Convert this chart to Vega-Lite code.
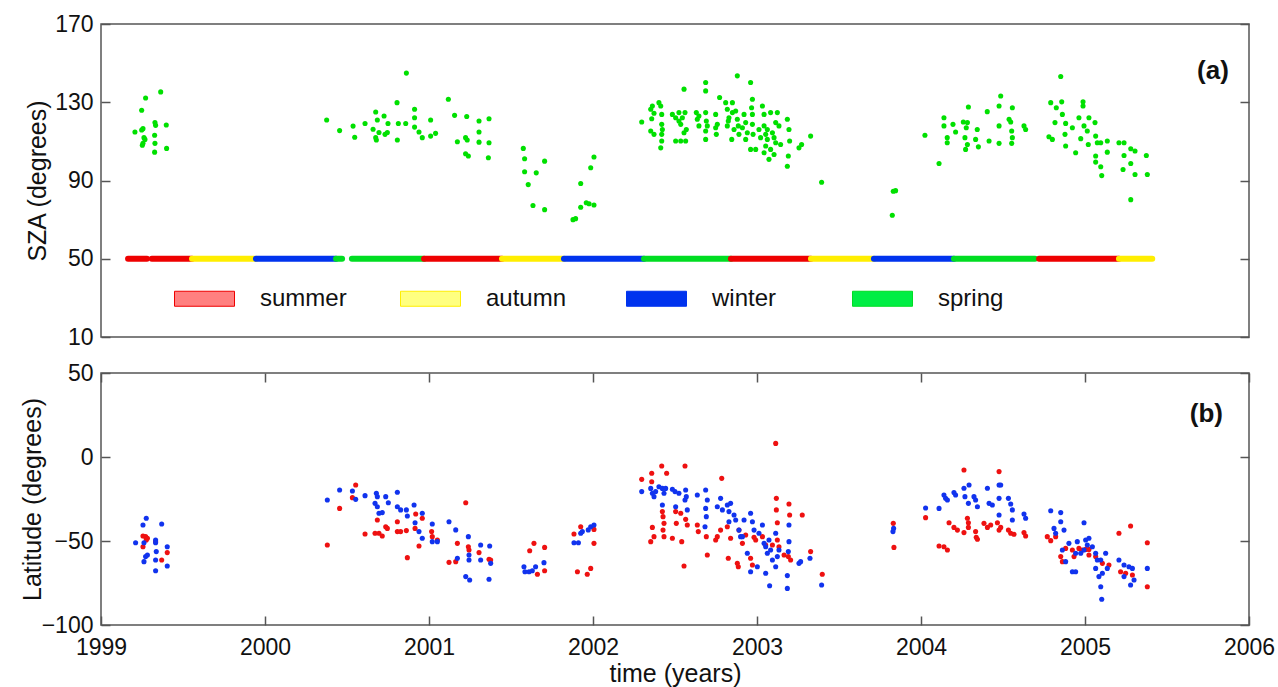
{
"$schema": "https://vega.github.io/schema/vega-lite/v6.json",
"background": "white",
"padding": {"left": 19, "top": 12, "right": 5, "bottom": 0},
"bounds": "flush",
"spacing": 36,
"config": {
  "view": {"stroke": "#555", "strokeWidth": 1.5},
  "axis": {"labelFont": "Liberation Sans", "labelFontSize": 23, "labelColor": "#111", "titleFont": "Liberation Sans", "titleFontSize": 25, "titleFontWeight": "normal", "titleColor": "#111", "tickColor": "#555", "tickWidth": 1.5, "tickSize": -9, "labelPadding": 17, "domain": false, "grid": false, "labelFlush": false, "labelOverlap": false}
},
"resolve": {"scale": {"color": "independent"}},
"datasets": {
  "seasons": [
    {"seg":1,"season":"summer","t":1999.165,"sza":50},{"seg":1,"season":"summer","t":1999.28,"sza":50},
    {"seg":2,"season":"summer","t":1999.31,"sza":50},{"seg":2,"season":"summer","t":1999.555,"sza":50},
    {"seg":3,"season":"autumn","t":1999.555,"sza":50},{"seg":3,"season":"autumn","t":1999.945,"sza":50},
    {"seg":4,"season":"winter","t":1999.945,"sza":50},{"seg":4,"season":"winter","t":2000.433,"sza":50},
    {"seg":5,"season":"spring","t":2000.433,"sza":50},{"seg":5,"season":"spring","t":2000.47,"sza":50},
    {"seg":6,"season":"spring","t":2000.53,"sza":50},{"seg":6,"season":"spring","t":2000.97,"sza":50},
    {"seg":7,"season":"summer","t":2000.97,"sza":50},{"seg":7,"season":"summer","t":2001.445,"sza":50},
    {"seg":8,"season":"autumn","t":2001.445,"sza":50},{"seg":8,"season":"autumn","t":2001.823,"sza":50},
    {"seg":9,"season":"winter","t":2001.823,"sza":50},{"seg":9,"season":"winter","t":2002.311,"sza":50},
    {"seg":10,"season":"spring","t":2002.311,"sza":50},{"seg":10,"season":"spring","t":2002.841,"sza":50},
    {"seg":11,"season":"summer","t":2002.841,"sza":50},{"seg":11,"season":"summer","t":2003.329,"sza":50},
    {"seg":12,"season":"autumn","t":2003.329,"sza":50},{"seg":12,"season":"autumn","t":2003.713,"sza":50},
    {"seg":13,"season":"winter","t":2003.713,"sza":50},{"seg":13,"season":"winter","t":2004.201,"sza":50},
    {"seg":14,"season":"spring","t":2004.201,"sza":50},{"seg":14,"season":"spring","t":2004.695,"sza":50},
    {"seg":15,"season":"summer","t":2004.72,"sza":50},{"seg":15,"season":"summer","t":2005.207,"sza":50},
    {"seg":16,"season":"autumn","t":2005.207,"sza":50},{"seg":16,"season":"autumn","t":2005.41,"sza":50}
  ],
  "green": [
    {"t":1999.207,"sza":114.8},{"t":1999.248,"sza":115.8},{"t":1999.256,"sza":116.5},{"t":1999.248,"sza":125.9},{"t":1999.272,"sza":132.2},{"t":1999.262,"sza":111.9},{"t":1999.256,"sza":109},{"t":1999.252,"sza":108},{"t":1999.329,"sza":119.6},{"t":1999.333,"sza":118.2},{"t":1999.327,"sza":113.1},{"t":1999.329,"sza":109},{"t":1999.327,"sza":104.5},{"t":1999.364,"sza":135.3},{"t":1999.398,"sza":118.4},{"t":1999.4,"sza":106.4},{"t":1999.268,"sza":111},
    {"t":2000.376,"sza":120.9},{"t":2000.455,"sza":115.5},{"t":2000.537,"sza":117.8},{"t":2000.547,"sza":112.1},{"t":2000.61,"sza":119.1},{"t":2000.659,"sza":116.2},{"t":2000.675,"sza":125},{"t":2000.685,"sza":120.9},{"t":2000.675,"sza":111.9},{"t":2000.679,"sza":110.7},{"t":2000.695,"sza":114.5},{"t":2000.726,"sza":123},{"t":2000.732,"sza":113.6},{"t":2000.746,"sza":114.5},{"t":2000.75,"sza":119.1},{"t":2000.805,"sza":129.8},{"t":2000.807,"sza":110.7},{"t":2000.813,"sza":119.1},{"t":2000.858,"sza":119.1},{"t":2000.862,"sza":144.9},{"t":2000.912,"sza":126.4},{"t":2000.912,"sza":122.1},{"t":2000.912,"sza":117.3},{"t":2000.939,"sza":114.8},{"t":2000.959,"sza":111.9},{"t":2001.01,"sza":120.9},{"t":2001.01,"sza":112.7},{"t":2001.04,"sza":114.1},{"t":2001.118,"sza":131.5},{"t":2001.156,"sza":123.3},{"t":2001.173,"sza":109.8},{"t":2001.23,"sza":122.7},{"t":2001.223,"sza":111.9},{"t":2001.233,"sza":110.7},{"t":2001.223,"sza":103.7},{"t":2001.24,"sza":102.5},{"t":2001.305,"sza":120.4},{"t":2001.305,"sza":114.8},{"t":2001.305,"sza":109.6},{"t":2001.366,"sza":121.6},{"t":2001.366,"sza":109.3},{"t":2001.362,"sza":101.6},
    {"t":2001.575,"sza":106.4},{"t":2001.583,"sza":101.1},{"t":2001.583,"sza":94.5},{"t":2001.605,"sza":87.9},{"t":2001.634,"sza":77.2},{"t":2001.654,"sza":93.9},{"t":2001.705,"sza":99.9},{"t":2001.705,"sza":75.1},
    {"t":2001.878,"sza":70},{"t":2001.894,"sza":70.5},{"t":2001.925,"sza":88.5},{"t":2001.925,"sza":76.3},{"t":2001.959,"sza":78.6},{"t":2001.976,"sza":78.1},{"t":2002.006,"sza":77.5},{"t":2001.986,"sza":96.5},{"t":2002.006,"sza":102},
    {"t":2002.297,"sza":119.9},{"t":2002.352,"sza":126.4},{"t":2002.362,"sza":128.1},{"t":2002.358,"sza":121.6},{"t":2002.352,"sza":115.3},{"t":2002.372,"sza":124.4},{"t":2002.402,"sza":129.8},{"t":2002.413,"sza":128.1},{"t":2002.419,"sza":123.8},{"t":2002.419,"sza":118.7},{"t":2002.419,"sza":113.6},{"t":2002.419,"sza":110.2},{"t":2002.413,"sza":106.7},{"t":2002.484,"sza":123.8},{"t":2002.504,"sza":122.1},{"t":2002.524,"sza":120.4},{"t":2002.535,"sza":118.7},{"t":2002.504,"sza":110.2},{"t":2002.535,"sza":110.2},{"t":2002.565,"sza":110.2},{"t":2002.555,"sza":136.7},{"t":2002.561,"sza":124.7},{"t":2002.569,"sza":116.1},{"t":2002.555,"sza":114.4},{"t":2002.63,"sza":124.7},{"t":2002.636,"sza":121.3},{"t":2002.687,"sza":140.1},{"t":2002.687,"sza":135.8},{"t":2002.687,"sza":124.7},{"t":2002.691,"sza":120.4},{"t":2002.687,"sza":115.3},{"t":2002.687,"sza":111},{"t":2002.748,"sza":123.8},{"t":2002.758,"sza":118.7},{"t":2002.752,"sza":113.6},{"t":2002.772,"sza":132.4},{"t":2002.809,"sza":129.8},{"t":2002.819,"sza":126.4},{"t":2002.829,"sza":122.1},{"t":2002.819,"sza":117.9},{"t":2002.846,"sza":111},{"t":2002.85,"sza":129.8},{"t":2002.87,"sza":125.5},{"t":2002.88,"sza":121.3},{"t":2002.886,"sza":117.9},{"t":2002.89,"sza":113.6},{"t":2002.88,"sza":143.5},{"t":2002.921,"sza":123.8},{"t":2002.931,"sza":119.6},{"t":2002.941,"sza":114.4},{"t":2002.961,"sza":140.1},{"t":2002.972,"sza":131.5},{"t":2002.967,"sza":127.2},{"t":2002.972,"sza":123.8},{"t":2002.972,"sza":118.7},{"t":2002.976,"sza":113.6},{"t":2002.961,"sza":105.9},{"t":2002.992,"sza":105.9},{"t":2003.033,"sza":128.1},{"t":2003.043,"sza":123.8},{"t":2003.043,"sza":117.9},{"t":2003.053,"sza":113.6},{"t":2003.063,"sza":111},{"t":2003.053,"sza":107.6},{"t":2003.043,"sza":104.2},{"t":2003.073,"sza":100.8},{"t":2003.104,"sza":103.3},{"t":2003.094,"sza":114.4},{"t":2003.114,"sza":109.3},{"t":2003.114,"sza":119.6},{"t":2003.124,"sza":124.7},{"t":2003.144,"sza":108.4},{"t":2003.185,"sza":121.3},{"t":2003.195,"sza":116.1},{"t":2003.199,"sza":110.2},{"t":2003.191,"sza":102.5},{"t":2003.185,"sza":97.3},{"t":2003.256,"sza":106.7},{"t":2003.272,"sza":108.4},{"t":2003.327,"sza":112.7},
    {"t":2002.524,"sza":124.7},{"t":2002.545,"sza":122.1},{"t":2002.646,"sza":117.9},{"t":2002.697,"sza":117.9},{"t":2002.748,"sza":117},{"t":2002.825,"sza":120.4},{"t":2002.85,"sza":124.7},{"t":2002.86,"sza":116.1},{"t":2002.911,"sza":117},{"t":2002.931,"sza":111},{"t":2003.012,"sza":116.1},{"t":2003.022,"sza":111.9},{"t":2003.063,"sza":116.1},{"t":2003.083,"sza":105.9},{"t":2003.104,"sza":111.9},{"t":2003.134,"sza":117.9},{"t":2003.083,"sza":124.7},{"t":2002.423,"sza":116.1},{"t":2002.372,"sza":113.6},{"t":2002.646,"sza":123},
    {"t":2003.394,"sza":89.1},{"t":2003.831,"sza":84.5},{"t":2003.845,"sza":84.8},{"t":2003.825,"sza":72.2},
    {"t":2004.024,"sza":113.1},{"t":2004.11,"sza":98.7},{"t":2004.14,"sza":122.1},{"t":2004.14,"sza":117.9},{"t":2004.16,"sza":111.9},{"t":2004.16,"sza":109.3},{"t":2004.195,"sza":118.7},{"t":2004.211,"sza":114.8},{"t":2004.258,"sza":119.9},{"t":2004.268,"sza":111.9},{"t":2004.276,"sza":117},{"t":2004.283,"sza":119.6},{"t":2004.272,"sza":105.9},{"t":2004.289,"sza":127.6},{"t":2004.283,"sza":108.4},{"t":2004.343,"sza":116.1},{"t":2004.333,"sza":111},{"t":2004.35,"sza":107.2},{"t":2004.404,"sza":125.2},{"t":2004.415,"sza":110.2},{"t":2004.476,"sza":128.1},{"t":2004.486,"sza":133.2},{"t":2004.476,"sza":117.9},{"t":2004.476,"sza":109},{"t":2004.537,"sza":121.3},{"t":2004.547,"sza":119.9},{"t":2004.557,"sza":127.2},{"t":2004.553,"sza":115.3},{"t":2004.557,"sza":111.9},{"t":2004.553,"sza":109},{"t":2004.628,"sza":117.9},{"t":2004.638,"sza":116.1},
    {"t":2004.791,"sza":129.8},{"t":2004.825,"sza":127.2},{"t":2004.852,"sza":143.2},{"t":2004.858,"sza":130.2},{"t":2004.817,"sza":119.6},{"t":2004.78,"sza":112.4},{"t":2004.801,"sza":111},{"t":2004.862,"sza":123.8},{"t":2004.882,"sza":119.2},{"t":2004.878,"sza":113.6},{"t":2004.882,"sza":107.6},{"t":2004.923,"sza":117},{"t":2004.943,"sza":104.2},{"t":2004.963,"sza":122.1},{"t":2004.974,"sza":111.4},{"t":2004.988,"sza":130.2},{"t":2004.988,"sza":128.1},{"t":2004.994,"sza":117.9},{"t":2005.014,"sza":115.3},{"t":2005.024,"sza":122.1},{"t":2005.02,"sza":108.4},{"t":2005.061,"sza":119.6},{"t":2005.065,"sza":112.7},{"t":2005.075,"sza":109.3},{"t":2005.065,"sza":102.5},{"t":2005.065,"sza":99.4},{"t":2005.096,"sza":109.3},{"t":2005.096,"sza":97},{"t":2005.102,"sza":92.5},{"t":2005.136,"sza":110.2},{"t":2005.136,"sza":104.5},{"t":2005.207,"sza":109.3},{"t":2005.238,"sza":109.3},{"t":2005.238,"sza":102.8},{"t":2005.232,"sza":95.6},{"t":2005.279,"sza":106.2},{"t":2005.279,"sza":98.7},{"t":2005.305,"sza":105.1},{"t":2005.305,"sza":93.1},{"t":2005.374,"sza":102.8},{"t":2005.38,"sza":93.1},{"t":2005.279,"sza":80.2}
  ],
  "lat": [
    {"t":1999.256,"lat":-47,"s":"s1"},{"t":1999.272,"lat":-47.4,"s":"s1"},{"t":1999.276,"lat":-49.4,"s":"s1"},{"t":1999.256,"lat":-53.4,"s":"s1"},{"t":1999.333,"lat":-50.4,"s":"s1"},{"t":1999.37,"lat":-61.3,"s":"s1"},{"t":1999.404,"lat":-56.9,"s":"s1"},{"t":1999.283,"lat":-48.4,"s":"s1"},
    {"t":2000.38,"lat":-52.4,"s":"s1"},{"t":2000.455,"lat":-30.6,"s":"s1"},{"t":2000.533,"lat":-24.2,"s":"s1"},{"t":2000.553,"lat":-16.7,"s":"s1"},{"t":2000.61,"lat":-45.8,"s":"s1"},{"t":2000.671,"lat":-45.4,"s":"s1"},{"t":2000.685,"lat":-37.5,"s":"s1"},{"t":2000.695,"lat":-45.4,"s":"s1"},{"t":2000.715,"lat":-47,"s":"s1"},{"t":2000.736,"lat":-41.5,"s":"s1"},{"t":2000.746,"lat":-42.5,"s":"s1"},{"t":2000.807,"lat":-38.5,"s":"s1"},{"t":2000.807,"lat":-44.4,"s":"s1"},{"t":2000.827,"lat":-44.4,"s":"s1"},{"t":2000.862,"lat":-43.8,"s":"s1"},{"t":2000.868,"lat":-59.9,"s":"s1"},{"t":2000.915,"lat":-42.5,"s":"s1"},{"t":2000.919,"lat":-33.9,"s":"s1"},{"t":2000.939,"lat":-53,"s":"s1"},{"t":2000.959,"lat":-36.5,"s":"s1"},{"t":2001.016,"lat":-44.4,"s":"s1"},{"t":2001.02,"lat":-47.4,"s":"s1"},{"t":2001.051,"lat":-49.4,"s":"s1"},{"t":2001.122,"lat":-62.7,"s":"s1"},{"t":2001.163,"lat":-62.3,"s":"s1"},{"t":2001.173,"lat":-51.4,"s":"s1"},{"t":2001.224,"lat":-27.2,"s":"s1"},{"t":2001.24,"lat":-53.4,"s":"s1"},{"t":2001.244,"lat":-55.4,"s":"s1"},{"t":2001.305,"lat":-56.9,"s":"s1"},{"t":2001.366,"lat":-60.9,"s":"s1"},{"t":2001.376,"lat":-61.3,"s":"s1"},
    {"t":2001.614,"lat":-55.8,"s":"s1"},{"t":2001.64,"lat":-51.4,"s":"s1"},{"t":2001.661,"lat":-69.8,"s":"s1"},{"t":2001.705,"lat":-53.8,"s":"s1"},{"t":2001.705,"lat":-67.7,"s":"s1"},
    {"t":2001.884,"lat":-45.8,"s":"s1"},{"t":2001.925,"lat":-41.5,"s":"s1"},{"t":2001.905,"lat":-68.3,"s":"s1"},{"t":2001.965,"lat":-69.8,"s":"s1"},{"t":2001.986,"lat":-66.3,"s":"s1"},{"t":2002.006,"lat":-51.4,"s":"s1"},{"t":2002.006,"lat":-43.1,"s":"s1"},
    {"t":2002.297,"lat":-13.3,"s":"s1"},{"t":2002.358,"lat":-9.7,"s":"s1"},{"t":2002.358,"lat":-14.7,"s":"s1"},{"t":2002.419,"lat":-5.4,"s":"s1"},{"t":2002.449,"lat":-9.7,"s":"s1"},{"t":2002.561,"lat":-5.4,"s":"s1"},{"t":2002.785,"lat":-12.7,"s":"s1"},{"t":2002.423,"lat":-32.5,"s":"s1"},{"t":2002.427,"lat":-35.5,"s":"s1"},{"t":2002.433,"lat":-39.5,"s":"s1"},{"t":2002.427,"lat":-43.5,"s":"s1"},{"t":2002.433,"lat":-47.4,"s":"s1"},{"t":2002.362,"lat":-41.9,"s":"s1"},{"t":2002.372,"lat":-47.4,"s":"s1"},{"t":2002.352,"lat":-50.4,"s":"s1"},{"t":2002.484,"lat":-48.4,"s":"s1"},{"t":2002.504,"lat":-32.5,"s":"s1"},{"t":2002.535,"lat":-33.5,"s":"s1"},{"t":2002.508,"lat":-39.5,"s":"s1"},{"t":2002.541,"lat":-50.4,"s":"s1"},{"t":2002.575,"lat":-40.5,"s":"s1"},{"t":2002.636,"lat":-40.5,"s":"s1"},{"t":2002.642,"lat":-44.4,"s":"s1"},{"t":2002.691,"lat":-47.4,"s":"s1"},{"t":2002.697,"lat":-58.3,"s":"s1"},{"t":2002.748,"lat":-49.4,"s":"s1"},{"t":2002.758,"lat":-47.4,"s":"s1"},{"t":2002.778,"lat":-43.5,"s":"s1"},{"t":2002.819,"lat":-41.5,"s":"s1"},{"t":2002.825,"lat":-60.3,"s":"s1"},{"t":2002.839,"lat":-48.4,"s":"s1"},{"t":2002.88,"lat":-63.3,"s":"s1"},{"t":2002.886,"lat":-65.3,"s":"s1"},{"t":2002.89,"lat":-43.5,"s":"s1"},{"t":2002.911,"lat":-51.4,"s":"s1"},{"t":2002.931,"lat":-46.4,"s":"s1"},{"t":2002.961,"lat":-60.3,"s":"s1"},{"t":2002.972,"lat":-64.3,"s":"s1"},{"t":2002.992,"lat":-49.4,"s":"s1"},{"t":2003.033,"lat":-47.4,"s":"s1"},{"t":2003.114,"lat":8.1,"s":"s1"},{"t":2003.118,"lat":-24.6,"s":"s1"},{"t":2003.118,"lat":-31.5,"s":"s1"},{"t":2003.124,"lat":-39.1,"s":"s1"},{"t":2003.124,"lat":-49.4,"s":"s1"},{"t":2003.134,"lat":-53.4,"s":"s1"},{"t":2003.165,"lat":-58.3,"s":"s1"},{"t":2003.195,"lat":-28,"s":"s1"},{"t":2003.199,"lat":-34.5,"s":"s1"},{"t":2003.191,"lat":-59.3,"s":"s1"},{"t":2003.205,"lat":-61.3,"s":"s1"},{"t":2003.276,"lat":-34.5,"s":"s1"},{"t":2003.327,"lat":-56.3,"s":"s1"},{"t":2003.398,"lat":-69.8,"s":"s1"},{"t":2002.555,"lat":-64.9,"s":"s1"},{"t":2002.565,"lat":-37.1,"s":"s1"},{"t":2002.982,"lat":-47.8,"s":"s1"},{"t":2003.053,"lat":-52.4,"s":"s1"},{"t":2003.094,"lat":-52.4,"s":"s1"},
    {"t":2003.831,"lat":-39.5,"s":"s1"},{"t":2003.835,"lat":-53.8,"s":"s1"},{"t":2004.028,"lat":-36.1,"s":"s1"},
    {"t":2004.262,"lat":-7.7,"s":"s1"},{"t":2004.476,"lat":-8.7,"s":"s1"},{"t":2004.11,"lat":-53,"s":"s1"},{"t":2004.14,"lat":-53.4,"s":"s1"},{"t":2004.161,"lat":-55.4,"s":"s1"},{"t":2004.171,"lat":-39.1,"s":"s1"},{"t":2004.201,"lat":-41.9,"s":"s1"},{"t":2004.222,"lat":-43.5,"s":"s1"},{"t":2004.262,"lat":-45,"s":"s1"},{"t":2004.283,"lat":-36.5,"s":"s1"},{"t":2004.289,"lat":-39.1,"s":"s1"},{"t":2004.289,"lat":-41.9,"s":"s1"},{"t":2004.333,"lat":-44.4,"s":"s1"},{"t":2004.337,"lat":-47.8,"s":"s1"},{"t":2004.344,"lat":-49,"s":"s1"},{"t":2004.384,"lat":-39.5,"s":"s1"},{"t":2004.405,"lat":-41.9,"s":"s1"},{"t":2004.425,"lat":-40.5,"s":"s1"},{"t":2004.466,"lat":-39.1,"s":"s1"},{"t":2004.476,"lat":-43.5,"s":"s1"},{"t":2004.486,"lat":-41.9,"s":"s1"},{"t":2004.533,"lat":-43.5,"s":"s1"},{"t":2004.547,"lat":-45.4,"s":"s1"},{"t":2004.567,"lat":-46,"s":"s1"},{"t":2004.628,"lat":-45,"s":"s1"},{"t":2004.638,"lat":-47,"s":"s1"},{"t":2004.77,"lat":-47.4,"s":"s1"},{"t":2004.791,"lat":-49.8,"s":"s1"},{"t":2004.821,"lat":-47.4,"s":"s1"},{"t":2004.852,"lat":-59.3,"s":"s1"},{"t":2004.862,"lat":-62.3,"s":"s1"},{"t":2004.882,"lat":-54.4,"s":"s1"},{"t":2004.923,"lat":-55.4,"s":"s1"},{"t":2004.933,"lat":-59.3,"s":"s1"},{"t":2004.963,"lat":-54.4,"s":"s1"},{"t":2004.984,"lat":-55.4,"s":"s1"},{"t":2005.004,"lat":-55,"s":"s1"},{"t":2005.024,"lat":-55,"s":"s1"},{"t":2005.065,"lat":-59.3,"s":"s1"},{"t":2005.106,"lat":-63.3,"s":"s1"},{"t":2005.146,"lat":-64.3,"s":"s1"},{"t":2005.207,"lat":-45.4,"s":"s1"},{"t":2005.278,"lat":-41.1,"s":"s1"},{"t":2005.38,"lat":-51,"s":"s1"},{"t":2005.38,"lat":-77.2,"s":"s1"},{"t":2005.217,"lat":-68.3,"s":"s1"},{"t":2005.289,"lat":-70.2,"s":"s1"},{"t":2005.248,"lat":-69.2,"s":"s1"},{"t":2005.024,"lat":-58.3,"s":"s1"},
    {"t":1999.211,"lat":-51,"s":"s2"},{"t":1999.256,"lat":-40.5,"s":"s2"},{"t":1999.276,"lat":-36.5,"s":"s2"},{"t":1999.262,"lat":-51,"s":"s2"},{"t":1999.272,"lat":-59.3,"s":"s2"},{"t":1999.262,"lat":-62.3,"s":"s2"},{"t":1999.333,"lat":-49.4,"s":"s2"},{"t":1999.333,"lat":-51,"s":"s2"},{"t":1999.337,"lat":-56.3,"s":"s2"},{"t":1999.333,"lat":-61.3,"s":"s2"},{"t":1999.333,"lat":-67.7,"s":"s2"},{"t":1999.37,"lat":-39.9,"s":"s2"},{"t":1999.404,"lat":-53.4,"s":"s2"},{"t":1999.404,"lat":-64.9,"s":"s2"},{"t":1999.283,"lat":-58.3,"s":"s2"},
    {"t":2000.38,"lat":-25.6,"s":"s2"},{"t":2000.455,"lat":-19.6,"s":"s2"},{"t":2000.533,"lat":-20.2,"s":"s2"},{"t":2000.553,"lat":-25.2,"s":"s2"},{"t":2000.61,"lat":-23,"s":"s2"},{"t":2000.679,"lat":-21.6,"s":"s2"},{"t":2000.685,"lat":-23.6,"s":"s2"},{"t":2000.671,"lat":-27.6,"s":"s2"},{"t":2000.685,"lat":-29.6,"s":"s2"},{"t":2000.695,"lat":-33.5,"s":"s2"},{"t":2000.736,"lat":-23.6,"s":"s2"},{"t":2000.752,"lat":-27.2,"s":"s2"},{"t":2000.807,"lat":-21,"s":"s2"},{"t":2000.807,"lat":-29.6,"s":"s2"},{"t":2000.827,"lat":-31.5,"s":"s2"},{"t":2000.862,"lat":-31.5,"s":"s2"},{"t":2000.868,"lat":-35.1,"s":"s2"},{"t":2000.909,"lat":-28.6,"s":"s2"},{"t":2000.915,"lat":-39.1,"s":"s2"},{"t":2000.939,"lat":-44.4,"s":"s2"},{"t":2000.959,"lat":-48.4,"s":"s2"},{"t":2001.02,"lat":-39.9,"s":"s2"},{"t":2001.02,"lat":-50.4,"s":"s2"},{"t":2001.051,"lat":-50.4,"s":"s2"},{"t":2001.122,"lat":-38.5,"s":"s2"},{"t":2001.163,"lat":-43.4,"s":"s2"},{"t":2001.173,"lat":-60.3,"s":"s2"},{"t":2001.24,"lat":-47.4,"s":"s2"},{"t":2001.244,"lat":-58.3,"s":"s2"},{"t":2001.244,"lat":-61.3,"s":"s2"},{"t":2001.224,"lat":-71.2,"s":"s2"},{"t":2001.248,"lat":-73.2,"s":"s2"},{"t":2001.315,"lat":-52.4,"s":"s2"},{"t":2001.315,"lat":-61.3,"s":"s2"},{"t":2001.37,"lat":-53,"s":"s2"},{"t":2001.376,"lat":-63.3,"s":"s2"},{"t":2001.366,"lat":-72.8,"s":"s2"},{"t":2000.959,"lat":-33.5,"s":"s2"},{"t":2000.715,"lat":-33.1,"s":"s2"},
    {"t":2001.579,"lat":-65.3,"s":"s2"},{"t":2001.585,"lat":-68.3,"s":"s2"},{"t":2001.61,"lat":-68.3,"s":"s2"},{"t":2001.63,"lat":-67.7,"s":"s2"},{"t":2001.65,"lat":-65.3,"s":"s2"},{"t":2001.701,"lat":-62.9,"s":"s2"},
    {"t":2001.884,"lat":-51,"s":"s2"},{"t":2001.911,"lat":-51,"s":"s2"},{"t":2001.925,"lat":-45.4,"s":"s2"},{"t":2001.935,"lat":-44.4,"s":"s2"},{"t":2001.971,"lat":-43.4,"s":"s2"},{"t":2001.986,"lat":-41.5,"s":"s2"},{"t":2002.006,"lat":-40.5,"s":"s2"},
    {"t":2002.297,"lat":-20.6,"s":"s2"},{"t":2002.352,"lat":-18.7,"s":"s2"},{"t":2002.362,"lat":-21.6,"s":"s2"},{"t":2002.372,"lat":-23.6,"s":"s2"},{"t":2002.382,"lat":-20.6,"s":"s2"},{"t":2002.402,"lat":-17.7,"s":"s2"},{"t":2002.423,"lat":-18.7,"s":"s2"},{"t":2002.433,"lat":-21.6,"s":"s2"},{"t":2002.443,"lat":-18.7,"s":"s2"},{"t":2002.484,"lat":-19.2,"s":"s2"},{"t":2002.5,"lat":-20.6,"s":"s2"},{"t":2002.524,"lat":-21.6,"s":"s2"},{"t":2002.565,"lat":-19.6,"s":"s2"},{"t":2002.561,"lat":-25.6,"s":"s2"},{"t":2002.569,"lat":-23.6,"s":"s2"},{"t":2002.423,"lat":-28.6,"s":"s2"},{"t":2002.504,"lat":-29.6,"s":"s2"},{"t":2002.575,"lat":-31.5,"s":"s2"},{"t":2002.636,"lat":-22.6,"s":"s2"},{"t":2002.687,"lat":-19.6,"s":"s2"},{"t":2002.697,"lat":-25.6,"s":"s2"},{"t":2002.687,"lat":-30.6,"s":"s2"},{"t":2002.691,"lat":-35.5,"s":"s2"},{"t":2002.683,"lat":-41.5,"s":"s2"},{"t":2002.758,"lat":-29.6,"s":"s2"},{"t":2002.778,"lat":-24.6,"s":"s2"},{"t":2002.789,"lat":-31.5,"s":"s2"},{"t":2002.819,"lat":-28.6,"s":"s2"},{"t":2002.829,"lat":-32.5,"s":"s2"},{"t":2002.839,"lat":-27.6,"s":"s2"},{"t":2002.86,"lat":-34.5,"s":"s2"},{"t":2002.87,"lat":-37.5,"s":"s2"},{"t":2002.829,"lat":-38.5,"s":"s2"},{"t":2002.89,"lat":-43.5,"s":"s2"},{"t":2002.9,"lat":-47.4,"s":"s2"},{"t":2002.921,"lat":-37.5,"s":"s2"},{"t":2002.961,"lat":-33.5,"s":"s2"},{"t":2002.972,"lat":-38.5,"s":"s2"},{"t":2002.982,"lat":-43.5,"s":"s2"},{"t":2003.012,"lat":-45.4,"s":"s2"},{"t":2003.033,"lat":-40.5,"s":"s2"},{"t":2003.043,"lat":-51.4,"s":"s2"},{"t":2003.053,"lat":-53.4,"s":"s2"},{"t":2003.063,"lat":-57.3,"s":"s2"},{"t":2003.073,"lat":-49.4,"s":"s2"},{"t":2003.083,"lat":-55.4,"s":"s2"},{"t":2003.114,"lat":-45.4,"s":"s2"},{"t":2003.134,"lat":-55.4,"s":"s2"},{"t":2003.124,"lat":-59.3,"s":"s2"},{"t":2003.195,"lat":-40.5,"s":"s2"},{"t":2003.195,"lat":-50.4,"s":"s2"},{"t":2003.191,"lat":-56.3,"s":"s2"},{"t":2003.256,"lat":-63.3,"s":"s2"},{"t":2003.266,"lat":-62.3,"s":"s2"},{"t":2003.323,"lat":-60.3,"s":"s2"},{"t":2002.961,"lat":-68.3,"s":"s2"},{"t":2003.002,"lat":-65.3,"s":"s2"},{"t":2003.053,"lat":-69.2,"s":"s2"},{"t":2003.077,"lat":-76.6,"s":"s2"},{"t":2003.185,"lat":-70.6,"s":"s2"},{"t":2003.185,"lat":-78.2,"s":"s2"},{"t":2003.394,"lat":-76.2,"s":"s2"},{"t":2002.941,"lat":-57.3,"s":"s2"},{"t":2002.911,"lat":-47.4,"s":"s2"},{"t":2003.094,"lat":-61.3,"s":"s2"},{"t":2003.114,"lat":-65.3,"s":"s2"},
    {"t":2003.833,"lat":-42.5,"s":"s2"},{"t":2003.829,"lat":-44.4,"s":"s2"},{"t":2004.028,"lat":-30.4,"s":"s2"},
    {"t":2004.11,"lat":-30.6,"s":"s2"},{"t":2004.14,"lat":-22.6,"s":"s2"},{"t":2004.15,"lat":-24.6,"s":"s2"},{"t":2004.161,"lat":-25.6,"s":"s2"},{"t":2004.201,"lat":-21.2,"s":"s2"},{"t":2004.211,"lat":-22.6,"s":"s2"},{"t":2004.262,"lat":-18.6,"s":"s2"},{"t":2004.268,"lat":-23.6,"s":"s2"},{"t":2004.293,"lat":-16.7,"s":"s2"},{"t":2004.289,"lat":-27.6,"s":"s2"},{"t":2004.323,"lat":-23.6,"s":"s2"},{"t":2004.333,"lat":-25.6,"s":"s2"},{"t":2004.344,"lat":-29.6,"s":"s2"},{"t":2004.405,"lat":-18.6,"s":"s2"},{"t":2004.415,"lat":-27.6,"s":"s2"},{"t":2004.435,"lat":-28.6,"s":"s2"},{"t":2004.476,"lat":-16.7,"s":"s2"},{"t":2004.486,"lat":-16.7,"s":"s2"},{"t":2004.476,"lat":-24.6,"s":"s2"},{"t":2004.476,"lat":-34.5,"s":"s2"},{"t":2004.533,"lat":-24.6,"s":"s2"},{"t":2004.547,"lat":-28,"s":"s2"},{"t":2004.557,"lat":-31.5,"s":"s2"},{"t":2004.557,"lat":-37.5,"s":"s2"},{"t":2004.628,"lat":-33.9,"s":"s2"},{"t":2004.638,"lat":-36.5,"s":"s2"},
    {"t":2004.791,"lat":-32,"s":"s2"},{"t":2004.811,"lat":-42.5,"s":"s2"},{"t":2004.821,"lat":-45.4,"s":"s2"},{"t":2004.852,"lat":-33.1,"s":"s2"},{"t":2004.852,"lat":-38.5,"s":"s2"},{"t":2004.872,"lat":-43.5,"s":"s2"},{"t":2004.862,"lat":-55.4,"s":"s2"},{"t":2004.882,"lat":-62.3,"s":"s2"},{"t":2004.923,"lat":-68.3,"s":"s2"},{"t":2004.943,"lat":-68.3,"s":"s2"},{"t":2004.953,"lat":-50.4,"s":"s2"},{"t":2004.994,"lat":-39.1,"s":"s2"},{"t":2005.004,"lat":-49.4,"s":"s2"},{"t":2005.014,"lat":-52.4,"s":"s2"},{"t":2005.024,"lat":-48.4,"s":"s2"},{"t":2005.045,"lat":-53.4,"s":"s2"},{"t":2005.065,"lat":-57.3,"s":"s2"},{"t":2005.075,"lat":-61.3,"s":"s2"},{"t":2005.096,"lat":-61.3,"s":"s2"},{"t":2005.106,"lat":-69.2,"s":"s2"},{"t":2005.065,"lat":-66.3,"s":"s2"},{"t":2005.085,"lat":-71.2,"s":"s2"},{"t":2005.096,"lat":-77.2,"s":"s2"},{"t":2005.102,"lat":-84.7,"s":"s2"},{"t":2005.126,"lat":-57.3,"s":"s2"},{"t":2005.136,"lat":-66.3,"s":"s2"},{"t":2005.207,"lat":-61.3,"s":"s2"},{"t":2005.238,"lat":-64.3,"s":"s2"},{"t":2005.268,"lat":-65.3,"s":"s2"},{"t":2005.289,"lat":-66.3,"s":"s2"},{"t":2005.238,"lat":-71.2,"s":"s2"},{"t":2005.278,"lat":-76.2,"s":"s2"},{"t":2005.299,"lat":-73.2,"s":"s2"},{"t":2005.38,"lat":-66.3,"s":"s2"},{"t":2004.974,"lat":-57.3,"s":"s2"},{"t":2004.994,"lat":-55.4,"s":"s2"},{"t":2004.943,"lat":-57.3,"s":"s2"},{"t":2004.902,"lat":-51.4,"s":"s2"}
  ]
},
"vconcat": [
  {
    "width": 1148, "height": 313,
    "layer": [
      {
        "data": {"name": "seasons"},
        "mark": {"type": "line", "strokeWidth": 6, "strokeCap": "round"},
        "encoding": {
          "x": {"field": "t", "type": "quantitative", "scale": {"domain": [1999, 2006], "nice": false, "zero": false}, "axis": null},
          "y": {"field": "sza", "type": "quantitative", "scale": {"domain": [10, 170], "nice": false, "zero": false}, "axis": {"title": "SZA (degrees)", "values": [10, 50, 90, 130, 170]}},
          "detail": {"field": "seg"},
          "color": {"field": "season", "type": "nominal",
            "scale": {"domain": ["summer", "autumn", "winter", "spring"], "range": ["#ee0000", "#ffee00", "#0033ee", "#00dd22"]},
            "legend": {"orient": "none", "legendX": 73, "legendY": 244, "direction": "horizontal", "columns": 4, "gridAlign": "all", "columnPadding": 51, "title": null,
              "symbolType": "M-1,-0.25H1V0.25H-1Z", "symbolSize": 3600, "symbolStrokeWidth": 1, "symbolStrokeColor": "#333",
              "labelFont": "Liberation Sans", "labelFontSize": 24, "labelOffset": 25, "labelColor": "#111",
              "encode": {"symbols": {"update": {
                "fill": [{"test": "datum.value === 'summer'", "value": "#ff8080"}, {"test": "datum.value === 'autumn'", "value": "#ffff80"}, {"test": "datum.value === 'winter'", "value": "#0033ee"}, {"value": "#00ee44"}],
                "fillOpacity": {"value": 1}, "opacity": {"value": 1}, "stroke": {"value": "#333"}, "strokeWidth": {"value": 1}}}}
            }
          }
        }
      },
      {
        "data": {"name": "green"},
        "mark": {"type": "circle", "size": 26, "color": "#00e000", "opacity": 1},
        "encoding": {
          "x": {"field": "t", "type": "quantitative", "axis": null},
          "y": {"field": "sza", "type": "quantitative", "axis": null}
        }
      },
      {
        "data": {"values": [{}]},
        "mark": {"type": "text", "text": "(a)", "font": "Liberation Sans", "fontSize": 26, "fontWeight": "bold", "color": "#111"},
        "encoding": {
          "x": {"datum": 2005.78, "type": "quantitative", "axis": null},
          "y": {"datum": 146, "type": "quantitative", "axis": null}
        }
      },
      {
        "data": {"name": "green"},
        "mark": {"type": "circle", "opacity": 0},
        "encoding": {
          "x": {"field": "t", "type": "quantitative", "axis": null},
          "y": {"field": "sza", "type": "quantitative", "axis": {"orient": "right", "labels": false, "title": null, "values": [10, 50, 90, 130, 170]}}
        }
      }
    ],
    "resolve": {"axis": {"y": "independent"}}
  },
  {
    "width": 1148, "height": 252,
    "layer": [
      {
        "data": {"name": "lat"},
        "mark": {"type": "circle", "size": 26, "opacity": 1},
        "encoding": {
          "x": {"field": "t", "type": "quantitative", "scale": {"domain": [1999, 2006], "nice": false, "zero": false}, "axis": {"title": "time (years)", "values": [1999, 2000, 2001, 2002, 2003, 2004, 2005, 2006], "format": "d", "labelPadding": 20, "titlePadding": 2}},
          "y": {"field": "lat", "type": "quantitative", "scale": {"domain": [-100, 50], "nice": false, "zero": false}, "axis": {"title": "Latitude (degrees)", "values": [-100, -50, 0, 50], "titlePadding": -4}},
          "color": {"field": "s", "type": "nominal", "scale": {"domain": ["s1", "s2"], "range": ["#ee1111", "#1133ee"]}, "legend": null}
        }
      },
      {
        "data": {"values": [{}]},
        "mark": {"type": "text", "text": "(b)", "font": "Liberation Sans", "fontSize": 26, "fontWeight": "bold", "color": "#111"},
        "encoding": {
          "x": {"datum": 2005.74, "type": "quantitative", "axis": null},
          "y": {"datum": 25.6, "type": "quantitative", "axis": null}
        }
      },
      {
        "data": {"name": "lat"},
        "mark": {"type": "circle", "opacity": 0},
        "encoding": {
          "x": {"field": "t", "type": "quantitative", "axis": {"orient": "top", "labels": false, "title": null, "values": [1999, 2000, 2001, 2002, 2003, 2004, 2005, 2006]}},
          "y": {"field": "lat", "type": "quantitative", "axis": {"orient": "right", "labels": false, "title": null, "values": [-100, -50, 0, 50]}}
        }
      }
    ],
    "resolve": {"axis": {"x": "independent", "y": "independent"}}
  }
]
}
